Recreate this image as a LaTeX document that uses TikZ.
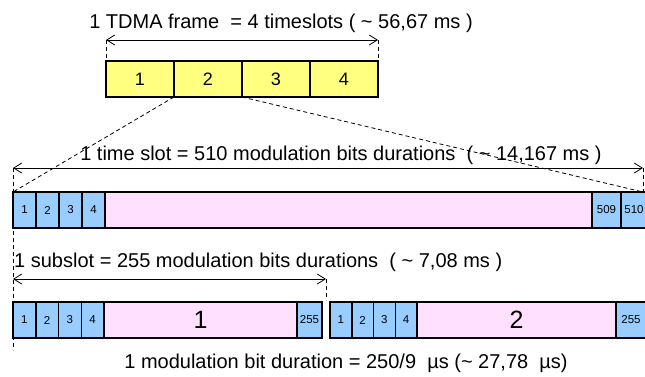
\documentclass[tikz,border=0pt]{standalone}
\usepackage{fontspec}
\setmainfont{Liberation Sans}
\usetikzlibrary{arrows.meta}
\definecolor{slotyellow}{RGB}{255,255,128}
\definecolor{bitblue}{RGB}{153,204,255}
\definecolor{datapink}{RGB}{255,224,255}
\begin{document}
\begin{tikzpicture}[x=1pt,y=-1pt,
  cell/.style={draw,line width=1.5pt,inner sep=0pt,outer sep=0pt,minimum height=36pt},
  slotbox/.style={cell,fill=slotyellow,font=\fontsize{18}{18}\selectfont},
  bitbox/.style={cell,fill=bitblue,font=\fontsize{11.5}{11.5}\selectfont},
  payload/.style={cell,fill=datapink,font=\fontsize{25}{25}\selectfont},
  dimtext/.style={font=\fontsize{20}{20}\selectfont,inner sep=0pt,anchor=base},
  dimline/.style={line width=0.8pt,{Straight Barb[length=8pt,width=10pt]}-{Straight Barb[length=8pt,width=10pt]}},
  extline/.style={line width=0.8pt,dash pattern=on 4pt off 3pt}]
  \useasboundingbox (0,0) rectangle (645,376);

  % TDMA frame
  \foreach \i in {1,...,4}
    \node[slotbox,minimum width=68pt] (f\i) at ({72+68*\i},79) {\i};

  % time slot
  \foreach \i in {1,...,4}
    \node[bitbox,minimum width=23pt] (t\i) at ({1.5+23*\i},210) {\i};
  \node[payload,minimum width=487pt] (tp) at (348.5,210) {};
  \node[bitbox,minimum width=29pt] (t509) at (606.5,210) {509};
  \node[bitbox,minimum width=26pt] (t510) at (634,210) {510};

  % subslots
  \foreach \i in {1,...,4}
    \node[bitbox,minimum width=22.75pt] (a\i) at ({1.625+22.75*\i},320) {\i};
  \node[payload,minimum width=193pt] (ap) at (200.5,320) {1};
  \node[bitbox,minimum width=25pt] (a255) at (309.5,320) {255};
  \foreach \i in {1,...,4}
    \node[bitbox,minimum width=21.75pt] (b\i) at ({319.125+21.75*\i},320) {\i};
  \node[payload,minimum width=199pt] (bp) at (516.5,320) {2};
  \node[bitbox,minimum width=30pt] (b255) at (631,320) {255};

  % dimensions
  \coordinate (fa) at (106,40);
  \coordinate (fb) at (378,40);
  \coordinate (ta) at (13,168);
  \coordinate (tb) at (643,168);
  \coordinate (tc) at (643,192);
  \coordinate (tz) at (13,350);
  \coordinate (sa) at (13,279);
  \coordinate (sb) at (326,279);
  \coordinate (sc) at (326,300);

  \draw[dimline] (fa) -- (fb);
  \draw[dimline] (ta) -- (tb);
  \draw[dimline] (sa) -- (sb);
  \draw[extline] (fa) -- (f1.north west);
  \draw[extline] (fb) -- (f4.north east);
  \draw[extline] (ta) -- (tz);
  \draw[extline] (tb) -- (tc);
  \draw[extline] (sb) -- (sc);
  \draw[extline] (f2.south west) -- (t1.north west);
  \draw[extline] (f2.south east) -- (tc);

  \node[dimtext] (ftxt) at (281,28) {1 TDMA frame\ \ = 4 timeslots ( \textasciitilde\ 56,67 ms )};
  \node[dimtext] (ttxt) at (341,160) {1 time slot = 510 modulation bits durations\ \ ( \textasciitilde\ 14,167 ms )};
  \node[dimtext,anchor=base west] (stxt) at (14,267) {1 subslot = 255 modulation bits durations\ \ ( \textasciitilde\ 7,08 ms )};
  \node[dimtext] (btxt) at (346,368) {1 modulation bit duration = 250/9\ \ µs (\textasciitilde\ 27,78\ \ µs)};
\end{tikzpicture}
\end{document}
